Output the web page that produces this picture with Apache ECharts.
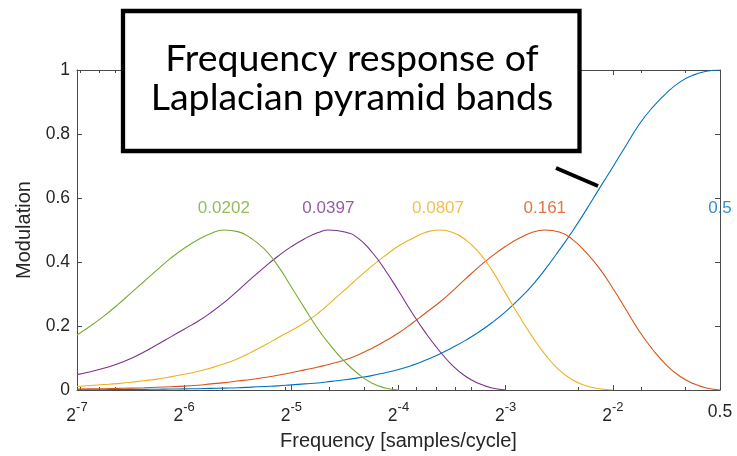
<!DOCTYPE html>
<html>
<head>
<meta charset="utf-8">
<script src="https://cdn.jsdelivr.net/npm/echarts@6/dist/echarts.min.js"></script>
<style>
  html, body { margin: 0; padding: 0; background: #ffffff; }
  #chart { width: 737px; height: 456px; }
</style>
</head>
<body>
<div id="chart"></div>
<script>
// Sample grid: log2 of frequency in samples/cycle, 2^-7 ... 2^-1 (= 0.5), eighth-octave steps
const freqExp = [
  -7, -6.875, -6.75, -6.625, -6.5, -6.375, -6.25, -6.125,
  -6, -5.875, -5.75, -5.625, -5.5, -5.375, -5.25, -5.125,
  -5, -4.875, -4.75, -4.625, -4.5, -4.375, -4.25, -4.125,
  -4, -3.875, -3.75, -3.625, -3.5, -3.375, -3.25, -3.125,
  -3, -2.875, -2.75, -2.625, -2.5, -2.375, -2.25, -2.125,
  -2, -1.875, -1.75, -1.625, -1.5, -1.375, -1.25, -1.125, -1
];

// Band responses (modulation); null once a band has fallen to zero
const band1 = [ // high-pass residual
  0.001, 0.001, 0.001, 0.0015, 0.002, 0.002, 0.0025, 0.003,
  0.0035, 0.004, 0.005, 0.006, 0.007, 0.009, 0.011, 0.013,
  0.016, 0.019, 0.022, 0.027, 0.032, 0.038, 0.045, 0.054,
  0.064, 0.077, 0.093, 0.111, 0.132, 0.155, 0.181, 0.211,
  0.245, 0.284, 0.328, 0.380, 0.437, 0.497, 0.562, 0.630,
  0.697, 0.765, 0.832, 0.885, 0.928, 0.962, 0.984, 0.996, 1.000
];
const band2 = [
  0.003, 0.0035, 0.004, 0.005, 0.006, 0.007, 0.0085, 0.010,
  0.012, 0.015, 0.019, 0.023, 0.028, 0.033, 0.039, 0.046,
  0.054, 0.063, 0.072, 0.082, 0.094, 0.110, 0.130, 0.153,
  0.178, 0.208, 0.240, 0.272, 0.308, 0.347, 0.385, 0.419,
  0.449, 0.474, 0.493, 0.500, 0.494, 0.470, 0.430, 0.380,
  0.318, 0.250, 0.182, 0.125, 0.078, 0.043, 0.020, 0.006, 0.000
];
const band3 = [
  0.011, 0.014, 0.017, 0.020, 0.024, 0.029, 0.034, 0.041,
  0.049, 0.058, 0.069, 0.082, 0.098, 0.118, 0.140, 0.163,
  0.186, 0.210, 0.240, 0.276, 0.313, 0.351, 0.387, 0.420,
  0.450, 0.473, 0.492, 0.500, 0.493, 0.470, 0.430, 0.373,
  0.302, 0.232, 0.166, 0.108, 0.062, 0.031, 0.013, 0.004,
  0.000, null, null, null, null, null, null, null, null
];
const band4 = [
  0.048, 0.057, 0.068, 0.081, 0.098, 0.119, 0.142, 0.166,
  0.190, 0.214, 0.242, 0.274, 0.310, 0.348, 0.384, 0.418,
  0.448, 0.473, 0.492, 0.500, 0.494, 0.474, 0.432, 0.375,
  0.310, 0.242, 0.180, 0.125, 0.078, 0.043, 0.020, 0.006,
  0.000, null, null, null, null, null, null, null,
  null, null, null, null, null, null, null, null, null
];
const band5 = [
  0.172, 0.200, 0.231, 0.265, 0.302, 0.339, 0.376, 0.412,
  0.443, 0.469, 0.489, 0.500, 0.495, 0.474, 0.440, 0.388,
  0.322, 0.255, 0.190, 0.135, 0.088, 0.050, 0.022, 0.006,
  0.000, null, null, null, null, null, null, null,
  null, null, null, null, null, null, null, null,
  null, null, null, null, null, null, null, null, null
];

// Peak frequency of each band (samples/cycle) and the response at that peak
const peakFreq  = [0.5, 0.161, 0.0807, 0.0397, 0.0202];
const peakValue = [1.0, 0.5, 0.5, 0.5, 0.5];
const peakText  = ['0.5', '0.161', '0.0807', '0.0397', '0.0202'];

const bandColors = ['#0072BD', '#D95319', '#EDB120', '#7E2F8E', '#77AC30'];

// Axis ticks
const xMajorExp   = [-7, -6, -5, -4, -3, -2, -1];
const xTickLabels = ['2^-7', '2^-6', '2^-5', '2^-4', '2^-3', '2^-2', '0.5'];
const xMinorFreq  = [0.008, 0.009, 0.01, 0.02, 0.03, 0.04, 0.05, 0.06, 0.07, 0.08, 0.09, 0.1,
                     0.2, 0.3, 0.4];
const yTicks      = [0, 0.2, 0.4, 0.6, 0.8, 1];

const FONT = "'Liberation Sans', Arial, Helvetica, sans-serif";
const TITLE_FONT = "Lato, 'Open Sans', sans-serif";
const AXIS_COLOR = '#4a4a4a';
const TEXT_COLOR = '#262626';
const LABEL_LEVEL = 0.569;

// Pair the grid with a band's values; the exact peak replaces the nearest grid sample
function buildBand(values, k) {
  const px = Math.log2(peakFreq[k]);
  const pts = [];
  values.forEach((v, i) => {
    if (v === null) return;
    if (Math.abs(freqExp[i] - px) < 0.05) pts.push([px, peakValue[k]]);
    else pts.push([freqExp[i], v]);
  });
  return pts;
}

const bands = [band1, band2, band3, band4, band5];
const minorExp = xMinorFreq.map(f => Math.log2(f));

function xLabel(value) {
  const i = xMajorExp.findIndex(e => Math.abs(e - value) < 1e-9);
  if (i < 0) return '';
  const t = xTickLabels[i];
  if (t.indexOf('^') >= 0) {
    const parts = t.split('^');
    return '{b|' + parts[0] + '}{s|' + parts[1] + '}';
  }
  return '{p|' + t + '}';
}

const xBase = { type: 'value', min: -7, max: -1, gridIndex: 0, splitLine: { show: false } };

const chart = echarts.init(document.getElementById('chart'), null, { renderer: 'canvas' });

const option = {
  backgroundColor: '#ffffff',
  animation: false,
  grid: { left: 77, right: 17, top: 70, bottom: 66, containLabel: false },
  xAxis: [
    Object.assign({}, xBase, {
      position: 'bottom', interval: 1,
      axisLine: { show: true, onZero: false, lineStyle: { color: AXIS_COLOR, width: 1 } },
      axisTick: { show: true, inside: true, length: 5, lineStyle: { color: AXIS_COLOR } },
      axisLabel: {
        show: true, margin: 11, formatter: xLabel, color: TEXT_COLOR, fontFamily: FONT,
        rich: {
          b: { fontSize: 17.5, fontFamily: FONT, color: TEXT_COLOR, padding: [6, 0, 0, 0], verticalAlign: 'bottom' },
          s: { fontSize: 13, fontFamily: FONT, color: TEXT_COLOR, verticalAlign: 'top' },
          p: { fontSize: 17.5, fontFamily: FONT, color: TEXT_COLOR, padding: [2, 0, 4, 0] }
        }
      },
      name: 'Frequency [samples/cycle]', nameLocation: 'middle', nameGap: 41,
      nameTextStyle: { fontSize: 20, fontFamily: FONT, color: TEXT_COLOR }
    }),
    Object.assign({}, xBase, {
      position: 'bottom',
      axisLine: { show: false, onZero: false },
      axisTick: { show: true, inside: true, length: 3, customValues: minorExp, lineStyle: { color: AXIS_COLOR } },
      axisLabel: { show: false }
    }),
    Object.assign({}, xBase, {
      position: 'top', interval: 1,
      axisLine: { show: true, onZero: false, lineStyle: { color: AXIS_COLOR, width: 1 } },
      axisTick: { show: true, inside: true, length: 5, lineStyle: { color: AXIS_COLOR } },
      axisLabel: { show: false }
    }),
    Object.assign({}, xBase, {
      position: 'top',
      axisLine: { show: false, onZero: false },
      axisTick: { show: true, inside: true, length: 3, customValues: minorExp, lineStyle: { color: AXIS_COLOR } },
      axisLabel: { show: false }
    })
  ],
  yAxis: [
    {
      type: 'value', min: 0, max: 1, interval: 0.2, position: 'left',
      splitLine: { show: false },
      axisLine: { show: true, onZero: false, lineStyle: { color: AXIS_COLOR, width: 1 } },
      axisTick: { show: true, inside: true, length: 5, customValues: yTicks, lineStyle: { color: AXIS_COLOR } },
      axisLabel: {
        margin: 7, fontSize: 17.5, fontFamily: FONT, color: TEXT_COLOR, customValues: yTicks,
        formatter: v => (v === 0 || v === 1) ? String(v) : v.toFixed(1)
      },
      name: 'Modulation', nameLocation: 'middle', nameGap: 41,
      nameTextStyle: { fontSize: 20, fontFamily: FONT, color: TEXT_COLOR }
    },
    {
      type: 'value', min: 0, max: 1, interval: 0.2, position: 'right',
      splitLine: { show: false },
      axisLine: { show: true, onZero: false, lineStyle: { color: AXIS_COLOR, width: 1 } },
      axisTick: { show: true, inside: true, length: 5, lineStyle: { color: AXIS_COLOR } },
      axisLabel: { show: false }
    }
  ],
  series: bands.map((vals, k) => ({
    type: 'line',
    xAxisIndex: 0, yAxisIndex: 0,
    data: buildBand(vals, k),
    showSymbol: false, symbol: 'none',
    smooth: 0.5,
    lineStyle: { color: bandColors[k], width: 1.1 },
    z: 2 + k
  })).concat([{
    type: 'scatter',
    xAxisIndex: 0, yAxisIndex: 0,
    symbolSize: 0,
    silent: true,
    data: peakFreq.map((f, k) => ({
      value: [Math.log2(f), LABEL_LEVEL],
      label: { color: bandColors[k] }
    })),
    label: {
      show: true, position: 'inside', fontSize: 17, fontFamily: FONT,
      formatter: p => peakText[p.dataIndex]
    },
    z: 10
  }]),
  graphic: [
    {
      type: 'rect', z: 100,
      shape: { x: 123, y: 11, width: 456.5, height: 140 },
      style: { fill: '#ffffff', stroke: '#000000', lineWidth: 4.3 }
    },
    {
      type: 'text', z: 101, x: 352, y: 59,
      style: { text: 'Frequency response of', font: '37.5px ' + TITLE_FONT, fill: '#000000',
               textAlign: 'center', textVerticalAlign: 'middle', verticalAlign: 'middle' }
    },
    {
      type: 'text', z: 101, x: 352, y: 98,
      style: { text: 'Laplacian pyramid bands', font: '37.5px ' + TITLE_FONT, fill: '#000000',
               textAlign: 'center', textVerticalAlign: 'middle', verticalAlign: 'middle' }
    },
    {
      type: 'line', z: 100,
      shape: { x1: 556, y1: 168, x2: 598, y2: 186 },
      style: { stroke: '#000000', lineWidth: 4 }
    }
  ]
};

chart.setOption(option);
</script>
</body>
</html>
